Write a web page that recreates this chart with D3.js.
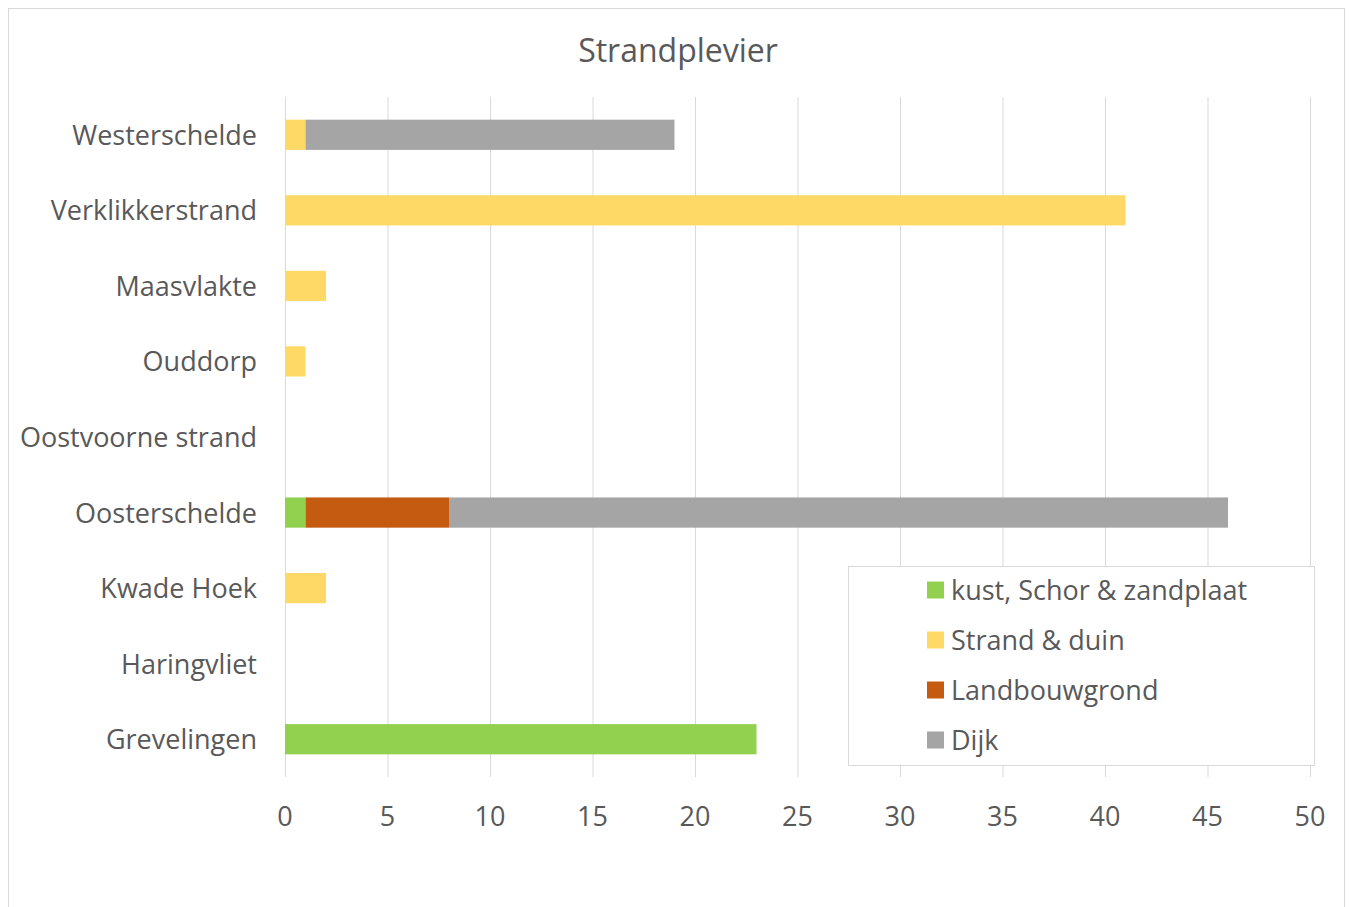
<!DOCTYPE html>
<html>
<head>
<meta charset="utf-8">
<script src="https://cdn.jsdelivr.net/npm/d3@7.9.0/dist/d3.min.js"></script>
<style>
  body { margin: 0; background: #fff; }
  svg { display: block; }
  text { font-family: "Open Sans", Lato, sans-serif; fill: #595959; }
</style>
</head>
<body>
<svg id="chart" width="1349" height="907"></svg>
<script>
// Categories, top to bottom
const areas = ['Westerschelde', 'Verklikkerstrand', 'Maasvlakte', 'Ouddorp', 'Oostvoorne strand',
  'Oosterschelde', 'Kwade Hoek', 'Haringvliet', 'Grevelingen'];

// Series (one value per area, same order)
const seriesNames = ['kust, Schor & zandplaat', 'Strand & duin', 'Landbouwgrond', 'Dijk'];
const kust = [0, 0, 0, 0, 0, 1, 0, 0, 23];
const strand = [1, 41, 2, 1, 0, 0, 2, 0, 0];
const landbouw = [0, 0, 0, 0, 0, 7, 0, 0, 0];
const dijk = [18, 0, 0, 0, 0, 38, 0, 0, 0];
const colors = ['#92d050', '#ffd966', '#c55a11', '#a5a5a5'];

const xTicks = [0, 5, 10, 15, 20, 25, 30, 35, 40, 45, 50];

const svg = d3.select('#chart');

// chart frame
svg.append('rect')
  .attr('x', 8.5).attr('y', 8.5)
  .attr('width', 1336).attr('height', 905)
  .attr('fill', 'none').attr('stroke', '#d9d9d9');

const margin = { left: 285, right: 39, top: 97, bottom: 130 };
const width = 1349 - margin.left - margin.right;
const height = 907 - margin.top - margin.bottom;

const x = d3.scaleLinear().domain([0, 50]).range([margin.left, margin.left + width]);
const y = d3.scaleBand().domain(areas).range([margin.top, margin.top + height]).paddingInner(0.6).paddingOuter(0.3);

// title
svg.append('text')
  .attr('x', 678).attr('y', 62)
  .attr('text-anchor', 'middle')
  .style('font-size', '32px')
  .text('Strandplevier');

// vertical gridlines
svg.append('g')
  .selectAll('line')
  .data(xTicks)
  .join('line')
  .attr('x1', (d) => x(d) + 0.5).attr('x2', (d) => x(d) + 0.5)
  .attr('y1', margin.top).attr('y2', margin.top + height)
  .attr('stroke', '#d9d9d9');

// stacked bars
const rows = areas.map((a, i) => ({
  area: a,
  [seriesNames[0]]: kust[i],
  [seriesNames[1]]: strand[i],
  [seriesNames[2]]: landbouw[i],
  [seriesNames[3]]: dijk[i]
}));
const stacked = d3.stack().keys(seriesNames)(rows);

svg.append('g')
  .selectAll('g')
  .data(stacked)
  .join('g')
  .attr('fill', (d, i) => colors[i])
  .selectAll('rect')
  .data((d) => d.filter((s) => s[1] > s[0]))
  .join('rect')
  .attr('x', (d) => x(d[0]))
  .attr('width', (d) => x(d[1]) - x(d[0]))
  .attr('y', (d) => y(d.data.area))
  .attr('height', y.bandwidth());

// category labels
svg.append('g')
  .selectAll('text')
  .data(areas)
  .join('text')
  .attr('x', margin.left - 28)
  .attr('y', (d) => y(d) + y.bandwidth() / 2 + 10)
  .attr('text-anchor', 'end')
  .style('font-size', '27px')
  .text((d) => d);

// x tick labels
svg.append('g')
  .selectAll('text')
  .data(xTicks)
  .join('text')
  .attr('x', (d) => x(d))
  .attr('y', 826)
  .attr('text-anchor', 'middle')
  .style('font-size', '27px')
  .text((d) => d);

// legend
const legend = svg.append('g').attr('transform', 'translate(848,566)');
legend.append('rect')
  .attr('x', 0.5).attr('y', 0.5)
  .attr('width', 466).attr('height', 199)
  .attr('fill', '#fff').attr('stroke', '#d9d9d9');

const item = legend.selectAll('g.item')
  .data(seriesNames)
  .join('g')
  .attr('class', 'item')
  .attr('transform', (d, i) => `translate(79,${24 + i * 50})`);
item.append('rect')
  .attr('width', 17).attr('height', 17)
  .attr('y', -8.5)
  .attr('fill', (d, i) => colors[i]);
item.append('text')
  .attr('x', 24)
  .attr('y', 10)
  .style('font-size', '27px')
  .text((d) => d);
</script>
</body>
</html>
